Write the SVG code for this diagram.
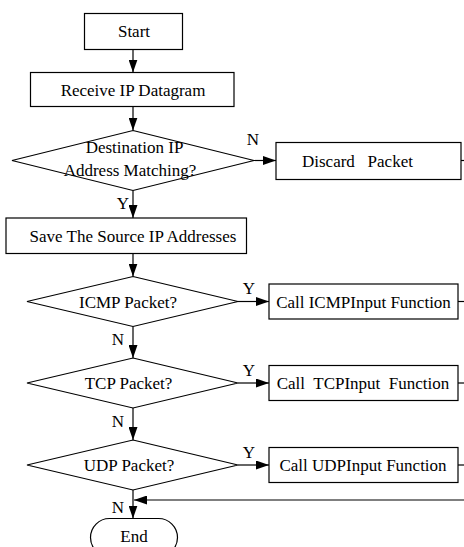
<svg xmlns="http://www.w3.org/2000/svg" width="464" height="547" viewBox="0 0 464 547" font-family="'Liberation Serif', 'Times New Roman', serif" font-size="17">
<style>
.s{fill:#fff;stroke:#000;stroke-width:1.2}
.c{fill:none;stroke:#000;stroke-width:1.2}
text{font-family:"Liberation Serif","Times New Roman",serif;font-size:17px;fill:#000;white-space:pre}
.m{text-anchor:middle}
</style>
<defs>
<marker id="ah" markerWidth="13" markerHeight="9" refX="13" refY="4.5" orient="auto" markerUnits="userSpaceOnUse">
<path d="M0,0 L13,4.5 L0,9 z" fill="#000"/>
</marker>
</defs>
<rect x="0" y="0" width="464" height="547" fill="#fff"/>
<g id="connectors">
<line class="c" x1="133" y1="49.5" x2="133" y2="72.5" marker-end="url(#ah)"/>
<line class="c" x1="133" y1="106.5" x2="133" y2="130.5" marker-end="url(#ah)"/>
<line class="c" x1="254" y1="160.5" x2="276" y2="160.5" marker-end="url(#ah)"/>
<line class="c" x1="461" y1="160.5" x2="466" y2="160.5"/>
<line class="c" x1="133" y1="190.5" x2="133" y2="218" marker-end="url(#ah)"/>
<line class="c" x1="133" y1="253.5" x2="133" y2="276.5" marker-end="url(#ah)"/>
<line class="c" x1="238" y1="301.5" x2="269" y2="301.5" marker-end="url(#ah)"/>
<line class="c" x1="458" y1="301.5" x2="466" y2="301.5"/>
<line class="c" x1="133" y1="326.5" x2="133" y2="358" marker-end="url(#ah)"/>
<line class="c" x1="238" y1="383" x2="269" y2="383" marker-end="url(#ah)"/>
<line class="c" x1="458" y1="383" x2="466" y2="383"/>
<line class="c" x1="133" y1="408" x2="133" y2="440" marker-end="url(#ah)"/>
<line class="c" x1="238" y1="465" x2="269" y2="465" marker-end="url(#ah)"/>
<line class="c" x1="458" y1="465" x2="466" y2="465"/>
<line class="c" x1="133" y1="490" x2="133" y2="518.5" marker-end="url(#ah)"/>
<line class="c" x1="466" y1="500" x2="134" y2="500" marker-end="url(#ah)"/>
<text x="253" y="145" class="m">N</text>
<text x="123" y="209" class="m">Y</text>
<text x="249" y="294" class="m">Y</text>
<text x="118" y="345" class="m">N</text>
<text x="249" y="375.5" class="m">Y</text>
<text x="118" y="427" class="m">N</text>
<text x="249" y="457.5" class="m">Y</text>
<text x="118" y="512.5" class="m">N</text>
</g>
<g id="start">
<rect class="s" x="84.5" y="13.5" width="98" height="36"/>
<text x="134" y="37" class="m">Start</text>
</g>
<g id="receive">
<rect class="s" x="30.5" y="72.5" width="203.5" height="34"/>
<text x="133" y="95.5" class="m">Receive IP Datagram</text>
</g>
<g id="dest">
<polygon class="s" points="133,130.5 254,160.5 133,190.5 12,160.5"/>
<text x="134.5" y="152.5" class="m">Destination IP</text>
<text x="130" y="175.5" class="m">Address Matching?</text>
</g>
<g id="discard">
<rect class="s" x="276" y="142.5" width="185" height="37"/>
<text x="302" y="166.5">Discard   Packet</text>
</g>
<g id="save">
<rect class="s" x="6" y="218" width="240.5" height="35.5"/>
<text x="133" y="241.5" class="m">Save The Source IP Addresses</text>
</g>
<g id="icmp">
<polygon class="s" points="133,276.5 238,301.5 133,326.5 27,301.5"/>
<text x="128" y="307.5" class="m">ICMP Packet?</text>
</g>
<g id="icmpcall">
<rect class="s" x="269" y="284" width="189" height="35"/>
<text x="363.5" y="307.5" class="m">Call ICMPInput Function</text>
</g>
<g id="tcp">
<polygon class="s" points="133,358 238,383 133,408 27,383"/>
<text x="128.5" y="389" class="m">TCP Packet?</text>
</g>
<g id="tcpcall">
<rect class="s" x="269" y="365.5" width="189" height="35"/>
<text x="363" y="389" class="m">Call  TCPInput  Function</text>
</g>
<g id="udp">
<polygon class="s" points="133,440 238,465 133,490 27,465"/>
<text x="129" y="471" class="m">UDP Packet?</text>
</g>
<g id="udpcall">
<rect class="s" x="269" y="447.5" width="189" height="35"/>
<text x="363" y="471" class="m">Call UDPInput Function</text>
</g>
<g id="end">
<rect class="s" x="90.5" y="518.5" width="87" height="38" rx="19" ry="19"/>
<text x="134" y="541.5" class="m">End</text>
</g>
</svg>
